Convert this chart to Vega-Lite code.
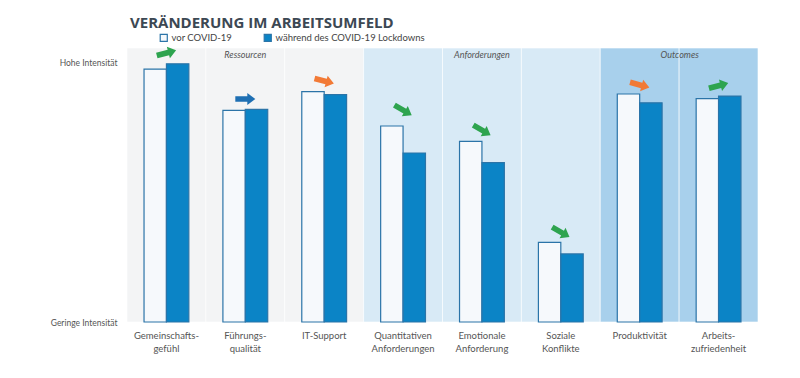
{
  "$schema": "https://vega.github.io/schema/vega-lite/v6.json",
  "autosize": {"type": "none"},
  "width": 631,
  "height": 274,
  "padding": {"left": 127, "top": 48, "right": 42, "bottom": 56},
  "background": "#ffffff",
  "config": {
    "view": {"stroke": null},
    "font": "Lato",
    "axis": {"labelFont": "Lato", "labelColor": "#555555"},
    "legend": {"labelFont": "Lato", "labelColor": "#444444"}
  },
  "title": {
    "text": "VERÄNDERUNG IM ARBEITSUMFELD",
    "font": "Open Sans",
    "fontSize": 15,
    "fontWeight": "bold",
    "color": "#3c4853",
    "anchor": "start",
    "frame": "group",
    "dx": 3,
    "offset": 21,
    "dy": 19
  },
  "datasets": {
    "bars": [
      {"cat": "Gemeinschafts-|gefühl", "period": "vor COVID-19", "value": 97.3},
      {"cat": "Gemeinschafts-|gefühl", "period": "während des COVID-19 Lockdowns", "value": 99.3},
      {"cat": "Führungs-|qualität", "period": "vor COVID-19", "value": 81.4},
      {"cat": "Führungs-|qualität", "period": "während des COVID-19 Lockdowns", "value": 81.8},
      {"cat": "IT-Support", "period": "vor COVID-19", "value": 88.6},
      {"cat": "IT-Support", "period": "während des COVID-19 Lockdowns", "value": 87.5},
      {"cat": "Quantitativen|Anforderungen", "period": "vor COVID-19", "value": 75.4},
      {"cat": "Quantitativen|Anforderungen", "period": "während des COVID-19 Lockdowns", "value": 65.0},
      {"cat": "Emotionale|Anforderung", "period": "vor COVID-19", "value": 69.5},
      {"cat": "Emotionale|Anforderung", "period": "während des COVID-19 Lockdowns", "value": 61.3},
      {"cat": "Soziale|Konflikte", "period": "vor COVID-19", "value": 30.6},
      {"cat": "Soziale|Konflikte", "period": "während des COVID-19 Lockdowns", "value": 26.2},
      {"cat": "Produktivität", "period": "vor COVID-19", "value": 87.7},
      {"cat": "Produktivität", "period": "während des COVID-19 Lockdowns", "value": 84.3},
      {"cat": "Arbeits-|zufriedenheit", "period": "vor COVID-19", "value": 85.9},
      {"cat": "Arbeits-|zufriedenheit", "period": "während des COVID-19 Lockdowns", "value": 86.9}
    ],
    "bg": [
      {"cat": "Gemeinschafts-|gefühl", "section": "Ressourcen"},
      {"cat": "Führungs-|qualität", "section": "Ressourcen"},
      {"cat": "IT-Support", "section": "Ressourcen"},
      {"cat": "Quantitativen|Anforderungen", "section": "Anforderungen"},
      {"cat": "Emotionale|Anforderung", "section": "Anforderungen"},
      {"cat": "Soziale|Konflikte", "section": "Anforderungen"},
      {"cat": "Produktivität", "section": "Outcomes"},
      {"cat": "Arbeits-|zufriedenheit", "section": "Outcomes"}
    ],
    "arrows": [
      {"cat": "Gemeinschafts-|gefühl", "level": 103.5, "angle": -15, "effect": "gut"},
      {"cat": "Führungs-|qualität", "level": 85.8, "angle": 0, "effect": "neutral"},
      {"cat": "IT-Support", "level": 92.7, "angle": 15, "effect": "schlecht"},
      {"cat": "Quantitativen|Anforderungen", "level": 81.5, "angle": 30, "effect": "gut"},
      {"cat": "Emotionale|Anforderung", "level": 73.8, "angle": 30, "effect": "gut"},
      {"cat": "Soziale|Konflikte", "level": 34.6, "angle": 30, "effect": "gut"},
      {"cat": "Produktivität", "level": 91.2, "angle": 15, "effect": "schlecht"},
      {"cat": "Arbeits-|zufriedenheit", "level": 90.9, "angle": -15, "effect": "gut"}
    ],
    "sections": [
      {"cat": "Führungs-|qualität", "label": "Ressourcen"},
      {"cat": "Emotionale|Anforderung", "label": "Anforderungen"}
    ],
    "sections2": [
      {"cat": "Produktivität", "label": "Outcomes"}
    ]
  },
  "encoding": {
    "x": {
      "field": "cat",
      "type": "nominal",
      "sort": null,
      "scale": {"paddingInner": 0, "paddingOuter": 0},
      "axis": {
        "title": null,
        "labelAngle": 0,
        "labelExpr": "split(datum.label, '|')",
        "labelFontSize": 9.5,
        "labelPadding": 8,
        "labelLineHeight": 13,
        "ticks": false,
        "domain": false,
        "labelLimit": 120
      }
    }
  },
  "layer": [
    {
      "data": {"name": "bg"},
      "mark": {"type": "rect", "stroke": "#ffffff", "strokeOpacity": 0.6, "strokeWidth": 1},
      "encoding": {
        "fill": {
          "field": "section",
          "type": "nominal",
          "scale": {"domain": ["Ressourcen", "Anforderungen", "Outcomes"], "range": ["#f3f4f5", "#d8eaf6", "#a8d0ec"]},
          "legend": null
        }
      }
    },
    {
      "data": {"name": "bars"},
      "mark": {"type": "bar", "stroke": "#2b74a8", "strokeWidth": 1.2},
      "encoding": {
        "xOffset": {"field": "period", "type": "nominal", "sort": null, "scale": {"paddingOuter": 0.76, "paddingInner": 0}},
        "y": {
          "field": "value",
          "type": "quantitative",
          "scale": {"domain": [0, 105.4], "nice": false, "zero": true},
          "axis": {
            "title": null,
            "values": [0, 100],
            "labelExpr": "datum.value === 0 ? 'Geringe Intensität' : 'Hohe Intensität'",
            "ticks": false,
            "domain": false,
            "grid": false,
            "labelFontSize": 8.5,
            "labelPadding": 10,
            "labelColor": "#555555"
          }
        },
        "color": {
          "field": "period",
          "type": "nominal",
          "sort": null,
          "scale": {"domain": ["vor COVID-19", "während des COVID-19 Lockdowns"], "range": ["#f6f9fc", "#0b84c6"]},
          "legend": {
            "title": null,
            "orient": "none",
            "legendX": 32,
            "legendY": -15,
            "direction": "horizontal",
            "symbolType": "square",
            "symbolSize": 50,
            "symbolStrokeColor": "#2b74a8",
            "symbolStrokeWidth": 1.2,
            "labelFontSize": 9.5,
            "columnPadding": 28,
            "labelOffset": 3
          }
        }
      }
    },
    {
      "data": {"name": "arrows"},
      "mark": {
        "type": "point",
        "filled": true,
        "opacity": 1,
        "size": 400,
        "shape": "M-1,-0.28 L0.2,-0.28 L0.2,-0.6 L1,0 L0.2,0.6 L0.2,0.28 L-1,0.28 Z"
      },
      "encoding": {
        "y": {"field": "level", "type": "quantitative"},
        "angle": {"field": "angle", "type": "quantitative", "scale": null},
        "fill": {
          "condition": [
            {"test": "datum.effect === 'gut'", "value": "#2ea44f"},
            {"test": "datum.effect === 'schlecht'", "value": "#f27a36"}
          ],
          "value": "#1e6fb3"
        }
      }
    },
    {
      "data": {"name": "sections"},
      "mark": {"type": "text", "fontStyle": "italic", "fontSize": 9, "color": "#555555"},
      "encoding": {
        "y": {"datum": 102.8},
        "text": {"field": "label"}
      }
    },
    {
      "data": {"name": "sections2"},
      "mark": {"type": "text", "fontStyle": "italic", "fontSize": 9, "color": "#555555", "dx": 40},
      "encoding": {
        "y": {"datum": 102.8},
        "text": {"field": "label"}
      }
    }
  ],
  "resolve": {"scale": {"fill": "independent"}}
}
